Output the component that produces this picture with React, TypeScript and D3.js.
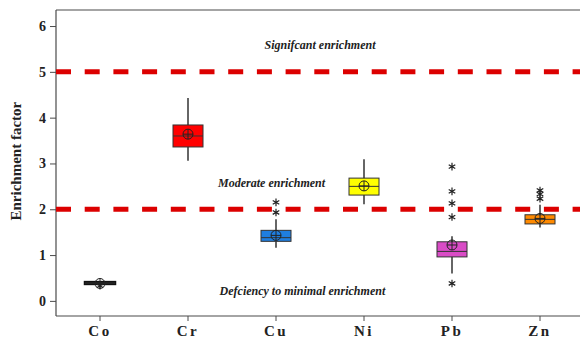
import { useEffect, useRef } from 'react';
import * as d3 from 'd3';

// elements on the x axis
const elements = ['Co', 'Cr', 'Cu', 'Ni', 'Pb', 'Zn'];
const boxColors = ['#111111', '#ff0000', '#1f7ee0', '#ffff00', '#d94cc6', '#ff8a00'];

// box statistics
const whiskerLow = [0.36, 3.06, 1.16, 2.11, 0.60, 1.60];
const q1 = [0.37, 3.36, 1.30, 2.31, 0.96, 1.68];
const median = [0.39, 3.60, 1.38, 2.50, 1.08, 1.78];
const q3 = [0.41, 3.84, 1.54, 2.68, 1.29, 1.88];
const whiskerHigh = [0.42, 4.43, 1.78, 3.09, 1.41, 2.10];
const means = [0.38, 3.64, 1.43, 2.51, 1.22, 1.80];
const outliers = [
  [0.33],
  [],
  [1.93, 2.15],
  [],
  [0.38, 1.83, 2.13, 2.39, 2.93],
  [2.23, 2.33, 2.41],
];

// classification thresholds and zone labels
const thresholds = [2, 5];
const zoneLabels = ['Defciency to minimal enrichment', 'Moderate enrichment', 'Signifcant enrichment'];
const zoneLabelValues = [0.22, 2.58, 5.6];
const zoneLabelElement = ['Ni', 'Cu', 'Ni'];
const zoneLabelShift = [-0.7, -0.05, -0.5];
const yTicks = [0, 1, 2, 3, 4, 5, 6];

const W = 580;
const H = 343;

export default function App() {
  const ref = useRef<SVGSVGElement>(null);

  useEffect(() => {
    const svg = d3.select(ref.current);
    svg.selectAll('*').remove();

    const left = 56, top = 10, bottom = 316, right = 584;
    const x = d3.scaleBand().domain(elements).range([left, right]);
    const y = d3.scaleLinear().domain([-0.33, 6.35]).range([bottom, top]);
    const bw = 30;
    const serif = '"Liberation Serif", "Times New Roman", serif';

    // frame
    const frame = svg.append('g').attr('stroke', '#4a4a4a').attr('stroke-width', 1.2).attr('fill', 'none');
    frame.append('line').attr('x1', left).attr('x2', W).attr('y1', top).attr('y2', top);
    frame.append('line').attr('x1', left).attr('x2', left).attr('y1', top).attr('y2', bottom);
    frame.append('line').attr('x1', left).attr('x2', W).attr('y1', bottom).attr('y2', bottom);

    // y axis
    const yAxis = svg.append('g')
      .attr('transform', `translate(${left},0)`)
      .call(d3.axisLeft(y).tickValues(yTicks).tickFormat(d3.format('d')).tickSize(6).tickPadding(4));
    yAxis.select('.domain').remove();
    yAxis.selectAll('line').attr('stroke', '#4a4a4a');
    yAxis.selectAll('text')
      .attr('font-family', serif).attr('font-size', 14).attr('font-weight', 'bold').attr('fill', '#222');

    // x axis
    const xAxis = svg.append('g')
      .attr('transform', `translate(0,${bottom})`)
      .call(d3.axisBottom(x).tickSize(5).tickPadding(4));
    xAxis.select('.domain').remove();
    xAxis.selectAll('line').attr('stroke', '#4a4a4a');
    xAxis.selectAll('text')
      .attr('font-family', serif).attr('font-size', 15).attr('font-weight', 'bold')
      .attr('letter-spacing', 2.5).attr('fill', '#222');

    // y title
    svg.append('text')
      .attr('transform', `translate(21,${y(3.05)}) rotate(-90)`)
      .attr('text-anchor', 'middle')
      .attr('font-family', serif).attr('font-size', 15).attr('font-weight', 'bold').attr('fill', '#222')
      .text('Enrichment factor');

    // threshold lines
    svg.append('g').selectAll('line').data(thresholds).join('line')
      .attr('x1', left).attr('x2', W)
      .attr('y1', d => y(d)).attr('y2', d => y(d))
      .attr('stroke', '#dc0000').attr('stroke-width', 5)
      .attr('stroke-dasharray', '15,13.7');

    // zone labels
    svg.append('g').selectAll('text').data(zoneLabels).join('text')
      .attr('x', (d, i) => (x(zoneLabelElement[i]) as number) + x.bandwidth() * (0.5 + zoneLabelShift[i]))
      .attr('y', (d, i) => y(zoneLabelValues[i]))
      .attr('dy', '0.35em')
      .attr('text-anchor', 'middle')
      .attr('font-family', serif).attr('font-size', 12).attr('font-weight', 'bold').attr('font-style', 'italic')
      .attr('fill', '#222')
      .text(d => d);

    // boxes
    const g = svg.append('g').selectAll('g').data(elements).join('g')
      .attr('transform', d => `translate(${(x(d) as number) + x.bandwidth() / 2},0)`);

    g.append('line')
      .attr('y1', (d, i) => y(whiskerLow[i])).attr('y2', (d, i) => y(whiskerHigh[i]))
      .attr('stroke', '#333').attr('stroke-width', 1.5);

    g.append('rect')
      .attr('x', -bw / 2).attr('width', bw)
      .attr('y', (d, i) => y(q3[i]))
      .attr('height', (d, i) => Math.max(y(q1[i]) - y(q3[i]), 1))
      .attr('fill', (d, i) => boxColors[i])
      .attr('stroke', (d, i) => (i === 0 ? '#111' : '#333'))
      .attr('stroke-width', (d, i) => (i === 0 ? 2.5 : 1));

    g.append('line')
      .attr('x1', -bw / 2).attr('x2', bw / 2)
      .attr('y1', (d, i) => y(median[i])).attr('y2', (d, i) => y(median[i]))
      .attr('stroke', '#333').attr('stroke-width', 1);

    // mean marker: circle with cross
    const m = g.append('g').attr('transform', (d, i) => `translate(0,${y(means[i])})`)
      .attr('stroke', '#222').attr('stroke-width', 1).attr('fill', 'none');
    m.append('circle').attr('r', 5);
    m.append('line').attr('x1', -5).attr('x2', 5);
    m.append('line').attr('y1', -5).attr('y2', 5);

    // outliers as asterisks
    const star = d3.symbol().type(d3.symbolAsterisk).size(40);
    g.each(function (d, i) {
      d3.select(this).selectAll('path.out').data(outliers[i]).join('path')
        .attr('class', 'out')
        .attr('transform', v => `translate(0,${y(v)})`)
        .attr('d', star())
        .attr('stroke', '#222').attr('stroke-width', 1.2).attr('fill', 'none');
    });
  }, []);

  return (
    <div style={{ position: 'fixed', left: 0, top: 0, background: '#fff' }}>
      <svg ref={ref} width={W} height={H} style={{ display: 'block' }} />
    </div>
  );
}
